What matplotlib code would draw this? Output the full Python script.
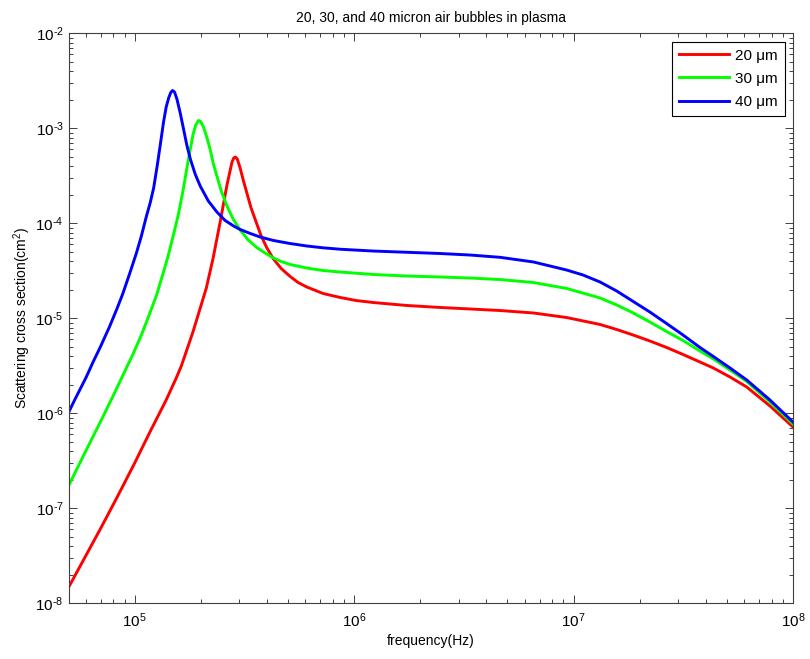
import numpy as np
import matplotlib
matplotlib.use('Agg')
from matplotlib import pyplot as plt
from matplotlib.ticker import FuncFormatter

plt.rcParams['font.family'] = ['Liberation Sans', 'DejaVu Sans']
plt.rcParams['mathtext.fontset'] = 'custom'
plt.rcParams['mathtext.rm'] = 'Liberation Sans'
plt.rcParams['mathtext.it'] = 'Liberation Sans:italic'

# values, stored as decades:
# log10(frequency / Hz) and log10(cross section / cm^2)
logf_20 = [4.701, 4.771, 4.844, 4.921, 5.000, 5.071, 5.144, 5.190, 5.213, 5.266,
           5.327, 5.358, 5.390, 5.421, 5.444, 5.452, 5.459, 5.468, 5.481, 5.495,
           5.512, 5.531, 5.557, 5.577, 5.603, 5.633, 5.668, 5.709, 5.745, 5.785,
           5.859, 5.937, 6.010, 6.088, 6.240, 6.392, 6.529, 6.665, 6.817, 6.969,
           7.121, 7.197, 7.272, 7.348, 7.424, 7.499, 7.576, 7.637, 7.713, 7.789,
           7.895, 8.000]
logs_20 = [-7.825, -7.528, -7.218, -6.881, -6.526, -6.192, -5.860, -5.628, -5.502, -5.144,
           -4.681, -4.365, -3.986, -3.597, -3.355, -3.313, -3.302, -3.323, -3.418, -3.544,
           -3.684, -3.839, -4.007, -4.134, -4.260, -4.376, -4.476, -4.560, -4.623, -4.671,
           -4.739, -4.781, -4.813, -4.834, -4.865, -4.886, -4.902, -4.918, -4.944, -4.992,
           -5.065, -5.118, -5.176, -5.239, -5.307, -5.381, -5.460, -5.523, -5.618, -5.723,
           -5.923, -6.144]

logf_30 = [4.701, 4.780, 4.844, 4.902, 4.954, 4.993, 5.031, 5.068, 5.099, 5.129,
           5.153, 5.178, 5.199, 5.223, 5.240, 5.254, 5.267, 5.279, 5.291, 5.301,
           5.314, 5.329, 5.345, 5.358, 5.375, 5.395, 5.421, 5.449, 5.481, 5.518,
           5.557, 5.595, 5.633, 5.668, 5.709, 5.785, 5.859, 5.937, 6.088, 6.240,
           6.392, 6.529, 6.665, 6.817, 6.969, 7.121, 7.197, 7.272, 7.348, 7.424,
           7.499, 7.576, 7.637, 7.713, 7.789, 7.895, 8.000]
logs_30 = [-6.755, -6.386, -6.092, -5.818, -5.565, -5.376, -5.176, -4.955, -4.765, -4.534,
           -4.344, -4.113, -3.913, -3.628, -3.397, -3.218, -3.060, -2.965, -2.918, -2.928,
           -2.986, -3.092, -3.228, -3.365, -3.502, -3.660, -3.818, -3.955, -4.071, -4.176,
           -4.255, -4.313, -4.365, -4.402, -4.434, -4.471, -4.497, -4.513, -4.539, -4.555,
           -4.565, -4.576, -4.592, -4.623, -4.686, -4.786, -4.860, -4.944, -5.039, -5.139,
           -5.234, -5.344, -5.428, -5.544, -5.665, -5.881, -6.113]

logf_40 = [4.701, 4.727, 4.780, 4.811, 4.844, 4.886, 4.921, 4.947, 4.980, 5.008,
           5.031, 5.053, 5.071, 5.087, 5.103, 5.117, 5.132, 5.144, 5.156, 5.165,
           5.173, 5.182, 5.193, 5.208, 5.223, 5.238, 5.254, 5.276, 5.299, 5.336,
           5.375, 5.413, 5.451, 5.481, 5.527, 5.572, 5.633, 5.709, 5.785, 5.859,
           5.937, 6.088, 6.240, 6.392, 6.529, 6.665, 6.817, 6.969, 7.043, 7.121,
           7.197, 7.272, 7.348, 7.424, 7.499, 7.576, 7.637, 7.713, 7.789, 7.895,
           8.000]
logs_40 = [-5.983, -5.860, -5.618, -5.460, -5.302, -5.088, -4.892, -4.737, -4.513, -4.316,
           -4.134, -3.934, -3.786, -3.628, -3.397, -3.176, -2.934, -2.776, -2.676, -2.623,
           -2.602, -2.618, -2.692, -2.839, -3.007, -3.176, -3.323, -3.481, -3.607, -3.765,
           -3.881, -3.971, -4.028, -4.065, -4.107, -4.144, -4.181, -4.213, -4.239, -4.258,
           -4.273, -4.292, -4.305, -4.318, -4.334, -4.358, -4.407, -4.492, -4.544, -4.618,
           -4.713, -4.823, -4.934, -5.055, -5.176, -5.307, -5.402, -5.523, -5.649, -5.860,
           -6.092]

labels = ['20 \u03bcm', '30 \u03bcm', '40 \u03bcm']
colors = ['#ff0000', '#00ff00', '#0000ff']

fig = plt.figure(figsize=(8.10, 6.59), dpi=100)
ax = fig.add_axes([68.5/810, 1 - 603.3/659, (793 - 68.5)/810, (603.3 - 33.3)/659])

for lf, ls, lab, c in zip([logf_20, logf_30, logf_40], [logs_20, logs_30, logs_40], labels, colors):
    ax.loglog(10**np.array(lf), 10**np.array(ls), color=c, lw=2.1, label=lab,
              solid_joinstyle='round')

def dec_label(v, pos):
    e = int(round(np.log10(v)))
    s = str(e).replace('-', '\u2010')
    return '$\\mathregular{10^{%s}}$' % s

ax.set_xlim(5e4, 1e8)
ax.set_ylim(1e-8, 1e-2)
ax.set_xticks([1e5, 1e6, 1e7, 1e8])
ax.set_yticks([1e-8, 1e-7, 1e-6, 1e-5, 1e-4, 1e-3, 1e-2])
ax.xaxis.set_major_formatter(FuncFormatter(dec_label))
ax.yaxis.set_major_formatter(FuncFormatter(dec_label))
ax.tick_params(which='both', direction='in', top=True, right=True, colors='#404040',
               labelcolor='black', labelsize=11)
ax.tick_params(which='major', length=5.8, width=0.7)
ax.tick_params(which='minor', length=2.9, width=0.7)
ax.tick_params(axis='x', pad=6)
for sp in ax.spines.values():
    sp.set_color('#404040')
    sp.set_linewidth(0.8)

ax.set_title('20, 30, and 40 micron air bubbles in plasma', fontsize=10, pad=8)
ax.set_xlabel('frequency(Hz)', fontsize=10, labelpad=3)
ax.set_ylabel('Scattering cross section(cm$^2$)', fontsize=10, labelpad=2)

leg = ax.legend(loc='upper right', fontsize=11, handlelength=3.3, handletextpad=0.4,
                labelspacing=0.6, borderaxespad=0.55, fancybox=False, framealpha=1,
                edgecolor='black', borderpad=0.45)
leg.get_frame().set_linewidth(0.8)

fig.savefig('out.png', dpi=100, facecolor='white')
